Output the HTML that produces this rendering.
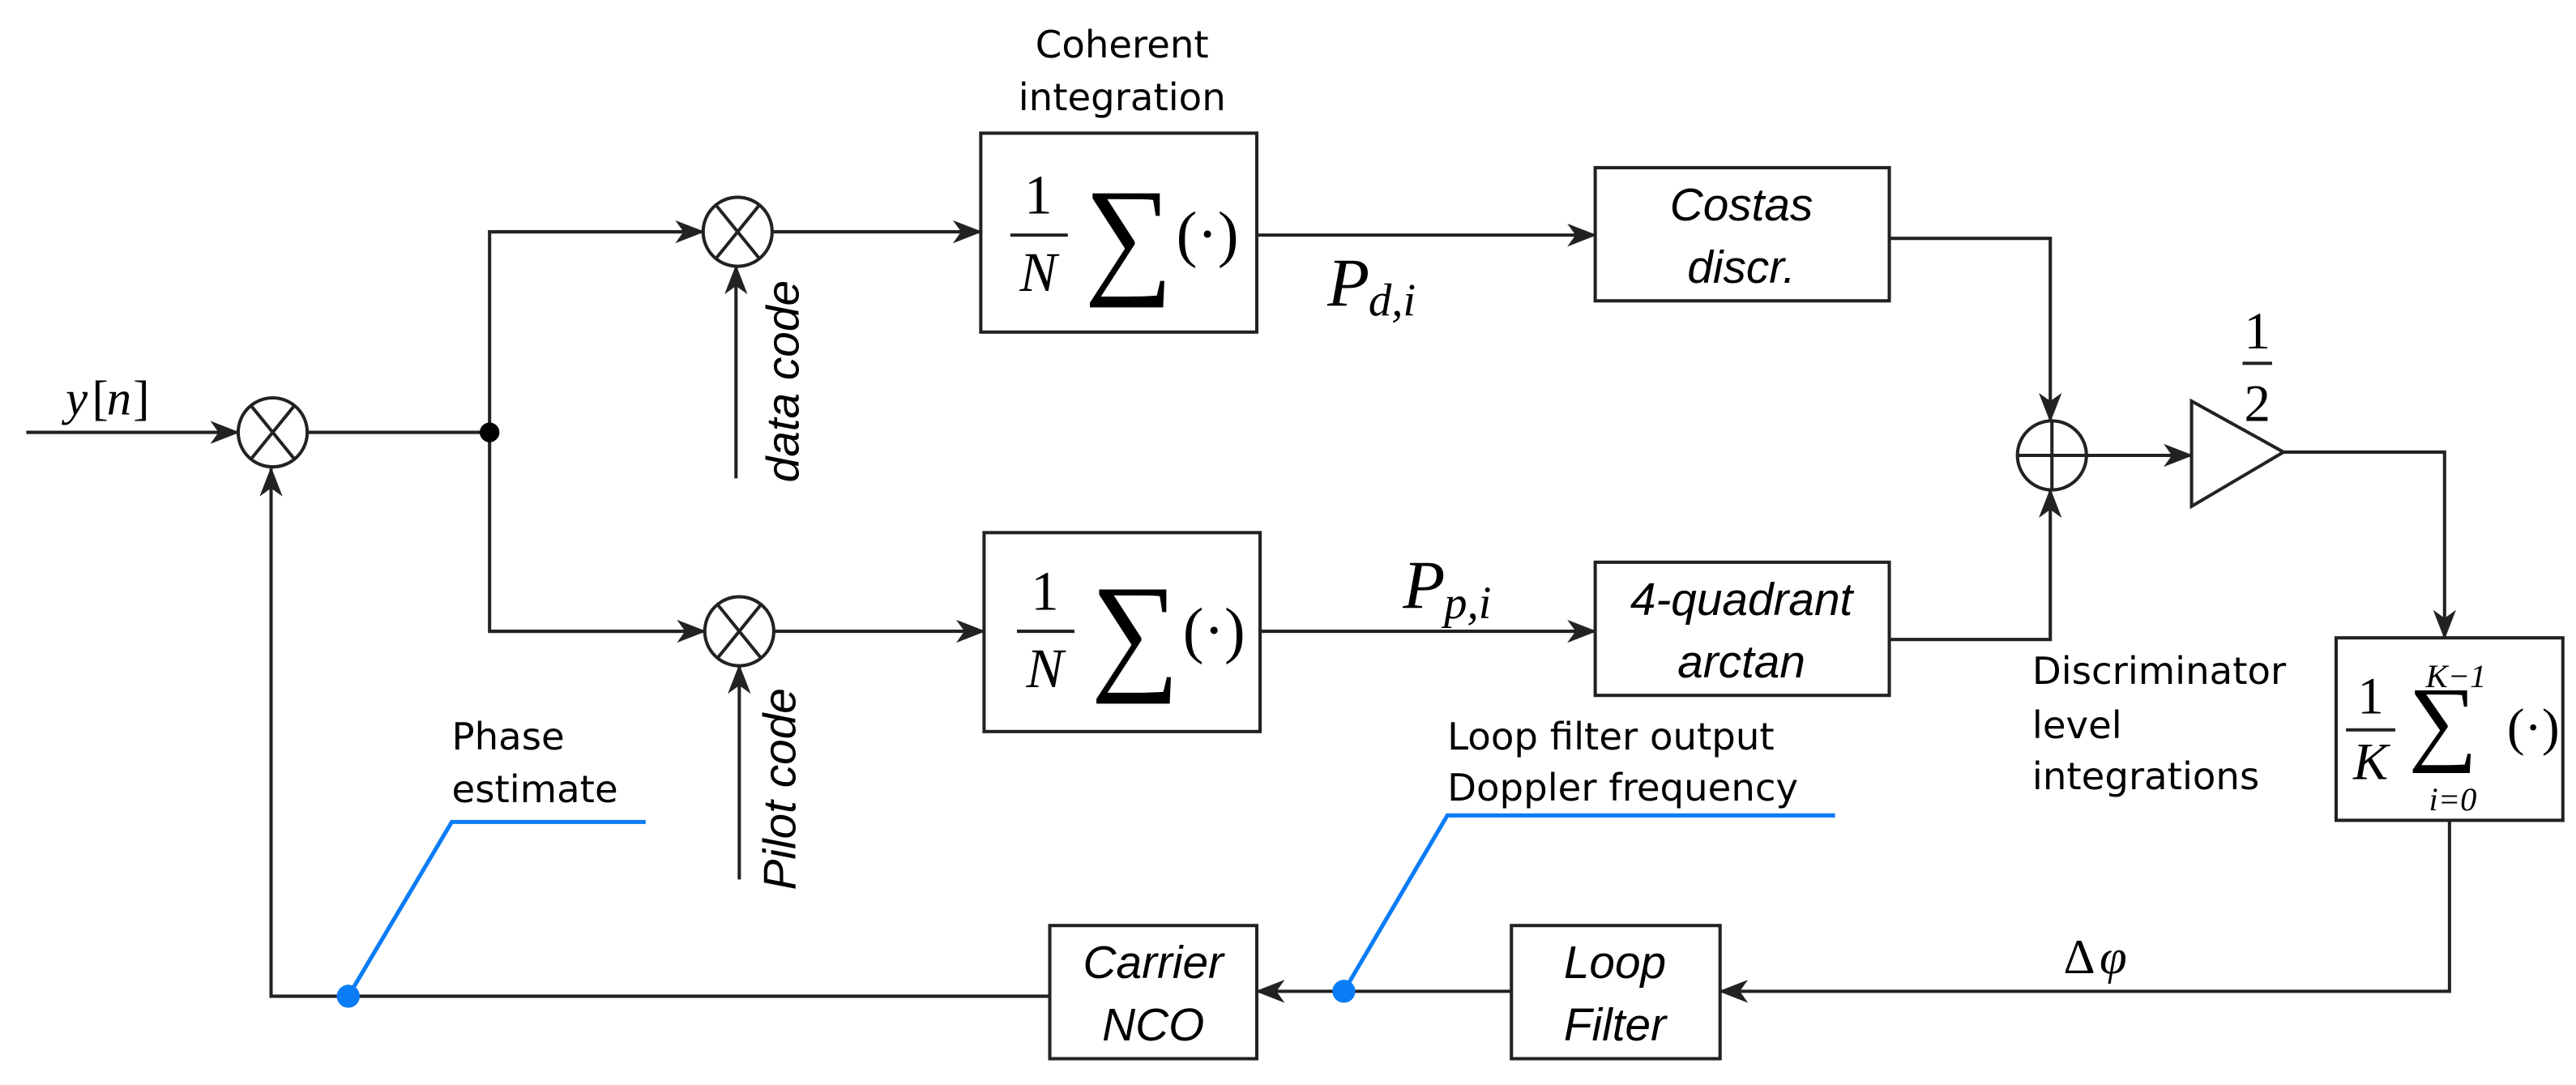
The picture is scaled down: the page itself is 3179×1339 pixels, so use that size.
<!DOCTYPE html>
<html><head><meta charset="utf-8"><style>
html,body{margin:0;padding:0;background:#fff;}
svg{display:block}
.s{font-family:"DejaVu Sans","Liberation Sans",sans-serif;font-size:23px;fill:#000}
.i{font-family:"Liberation Sans",sans-serif;font-style:italic;font-size:28px;fill:#000}
.m{font-family:"Liberation Serif","DejaVu Serif",serif;fill:#000}
</style></head><body>
<svg width="3179" height="1339" viewBox="0 0 1568 660" preserveAspectRatio="none" xmlns="http://www.w3.org/2000/svg">
<defs>
<marker id="a" markerWidth="18" markerHeight="14" refX="17" refY="7" orient="auto" markerUnits="userSpaceOnUse">
<path d="M0,0 L18,7 L0,14 L5,7 z" fill="#222"/>
</marker>
</defs>
<g stroke="#222" stroke-width="2" fill="none">
<line x1="16" y1="263" x2="145" y2="263" marker-end="url(#a)"/>
<circle cx="166" cy="263" r="21"/>
<line x1="153" y1="247" x2="179" y2="279"/><line x1="179" y1="247" x2="153" y2="279"/>
<line x1="187" y1="263" x2="298" y2="263"/>
<polyline points="428,141 298,141 298,384 429,384"/>
<line x1="298" y1="141" x2="428" y2="141" marker-end="url(#a)"/>
<line x1="298" y1="384" x2="429" y2="384" marker-end="url(#a)"/>
<circle cx="449" cy="141" r="21"/>
<line x1="436" y1="125" x2="462" y2="157"/><line x1="462" y1="125" x2="436" y2="157"/>
<line x1="448" y1="291" x2="448" y2="162" marker-end="url(#a)"/>
<line x1="470" y1="141" x2="597" y2="141" marker-end="url(#a)"/>
<circle cx="450" cy="384" r="21"/>
<line x1="437" y1="368" x2="463" y2="400"/><line x1="463" y1="368" x2="437" y2="400"/>
<line x1="450" y1="535" x2="450" y2="405" marker-end="url(#a)"/>
<line x1="471" y1="384" x2="599" y2="384" marker-end="url(#a)"/>
<rect x="597" y="81" width="168" height="121"/>
<rect x="599" y="324" width="168" height="121"/>
<rect x="971" y="102" width="179" height="81"/>
<rect x="971" y="342" width="179" height="81"/>
<rect x="1422" y="388" width="138" height="111"/>
<rect x="920" y="563" width="127" height="81"/>
<rect x="639" y="563" width="126" height="81"/>
<line x1="765" y1="143" x2="971" y2="143" marker-end="url(#a)"/>
<line x1="767" y1="384" x2="971" y2="384" marker-end="url(#a)"/>
<polyline points="1150,145 1248,145 1248,256" marker-end="url(#a)"/>
<polyline points="1150,389 1248,389 1248,298" marker-end="url(#a)"/>
<circle cx="1249" cy="277" r="21"/>
<line x1="1228" y1="277" x2="1270" y2="277"/><line x1="1249" y1="256" x2="1249" y2="298"/>
<line x1="1270" y1="277" x2="1334" y2="277" marker-end="url(#a)"/>
<polygon points="1334,244 1390,275 1334,308"/>
<polyline points="1390,275 1488,275 1488,388" marker-end="url(#a)"/>
<polyline points="1491,499 1491,603 1047,603" marker-end="url(#a)"/>
<line x1="920" y1="603" x2="765" y2="603" marker-end="url(#a)"/>
<polyline points="639,606 165,606 165,285" marker-end="url(#a)"/>
<line x1="615" y1="143" x2="650" y2="143"/>
<line x1="619" y1="384" x2="654" y2="384"/>
<line x1="1428" y1="444" x2="1458" y2="444"/>
<line x1="1365" y1="221" x2="1383" y2="221"/>
</g>
<circle cx="298" cy="263" r="6" fill="#000"/>
<g stroke="#0a7cf5" stroke-width="2.5" fill="none">
<polyline points="212,606 275,500 393,500"/>
<polyline points="818,603 881,496 1117,496"/>
</g>
<circle cx="212" cy="606" r="7" fill="#0a7cf5"/>
<circle cx="818" cy="603" r="7" fill="#0a7cf5"/>

<text class="m" x="40" y="252" font-size="30" font-style="italic">y</text>
<text class="m" x="56" y="252" font-size="30">[</text>
<text class="m" x="65" y="252" font-size="30" font-style="italic">n</text>
<text class="m" x="81" y="252" font-size="30">]</text>
<text class="s" x="683" y="35" text-anchor="middle">Coherent</text>
<text class="s" x="683" y="67" text-anchor="middle">integration</text>
<text class="i" transform="translate(486,232) rotate(-90)" text-anchor="middle" font-size="27">data code</text>
<text class="i" transform="translate(484,480) rotate(-90)" text-anchor="middle" font-size="27">Pilot code</text>
<g class="m">
<text x="632" y="130" font-size="34" text-anchor="middle">1</text>
<text x="632" y="177" font-size="34" font-style="italic" text-anchor="middle">N</text>
<text x="660" y="170" font-size="80" textLength="54" lengthAdjust="spacingAndGlyphs">∑</text>
<text x="716" y="155" font-size="38">(·)</text>
<text x="636" y="371" font-size="34" text-anchor="middle">1</text>
<text x="636" y="418" font-size="34" font-style="italic" text-anchor="middle">N</text>
<text x="664" y="411" font-size="80" textLength="54" lengthAdjust="spacingAndGlyphs">∑</text>
<text x="720" y="396" font-size="38">(·)</text>
<text x="808" y="186" font-size="42" font-style="italic">P</text>
<text x="833" y="192" font-size="28" font-style="italic">d,i</text>
<text x="854" y="370" font-size="42" font-style="italic">P</text>
<text x="879" y="376" font-size="28" font-style="italic">p,i</text>
<text x="1374" y="212" font-size="32" text-anchor="middle">1</text>
<text x="1374" y="256" font-size="32" text-anchor="middle">2</text>
<text x="1443" y="434" font-size="32" text-anchor="middle">1</text>
<text x="1443" y="474" font-size="32" font-style="italic" text-anchor="middle">K</text>
<text x="1466" y="458" font-size="58" textLength="42" lengthAdjust="spacingAndGlyphs">∑</text>
<text x="1495" y="418" font-size="20" font-style="italic" text-anchor="middle">K−1</text>
<text x="1493" y="493" font-size="20" font-style="italic" text-anchor="middle">i=0</text>
<text x="1526" y="453" font-size="32">(·)</text>
<text x="1256" y="592" font-size="30">Δ</text>
<text x="1278" y="592" font-size="30" font-style="italic">φ</text>
</g>
<text class="i" x="1060" y="134" text-anchor="middle">Costas</text>
<text class="i" x="1060" y="172" text-anchor="middle">discr.</text>
<text class="i" x="1060" y="374" text-anchor="middle">4-quadrant</text>
<text class="i" x="1060" y="412" text-anchor="middle">arctan</text>
<text class="i" x="983" y="595" text-anchor="middle">Loop</text>
<text class="i" x="983" y="633" text-anchor="middle">Filter</text>
<text class="i" x="702" y="595" text-anchor="middle">Carrier</text>
<text class="i" x="702" y="633" text-anchor="middle">NCO</text>
<text class="s" x="1237" y="416">Discriminator</text>
<text class="s" x="1237" y="449">level</text>
<text class="s" x="1237" y="480">integrations</text>
<text class="s" x="881" y="456">Loop filter output</text>
<text class="s" x="881" y="487">Doppler frequency</text>
<text class="s" x="275" y="456">Phase</text>
<text class="s" x="275" y="488">estimate</text>
</svg>
</body></html>
